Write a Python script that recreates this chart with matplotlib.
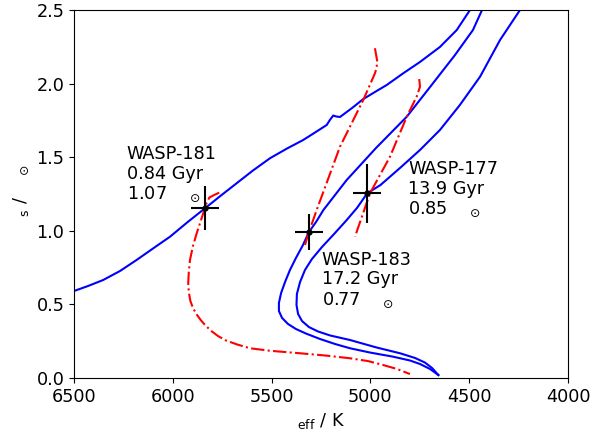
import matplotlib
matplotlib.use("Agg")
import matplotlib.pyplot as plt
import numpy as np

plt.rcParams['font.family'] = ['DejaVu Sans']
plt.rcParams['font.size'] = 12.7

# Isochrones (Teff [K], R [Rsun])
iso181_T = [6500, 6429, 6352, 6267, 6183, 6100, 6014, 5928, 5837, 5756, 5677, 5594, 5508, 5422, 5340, 5280,
            5221, 5205, 5188, 5174, 5154, 5093, 5036, 4977, 4918, 4835, 4749, 4648, 4563, 4496]
iso181_R = [0.591, 0.625, 0.666, 0.727, 0.802, 0.880, 0.960, 1.056, 1.153, 1.240, 1.323, 1.410, 1.493, 1.559, 1.617, 1.668,
            1.719, 1.753, 1.783, 1.777, 1.773, 1.834, 1.895, 1.943, 1.990, 2.069, 2.147, 2.249, 2.364, 2.5]

iso183_T = [4435, 4481, 4572, 4698, 4816, 4972, 5120, 5179, 5238, 5275, 5311, 5341, 5377, 5407, 5432, 5452,
            5463, 5463, 5447, 5417, 5377, 5326, 5255, 5179, 5103, 5002, 4886, 4800, 4749, 4698, 4656]
iso183_R = [2.5, 2.364, 2.194, 1.977, 1.775, 1.562, 1.345, 1.243, 1.141, 1.060, 0.992, 0.904, 0.815, 0.734, 0.652, 0.577,
            0.510, 0.455, 0.408, 0.367, 0.333, 0.302, 0.265, 0.231, 0.202, 0.173, 0.145, 0.119, 0.095, 0.061, 0.020]

iso177_T = [4243, 4344, 4445, 4547, 4648, 4749, 4850, 4949, 5016, 5068, 5124, 5184, 5245, 5296, 5331, 5356,
            5372, 5374, 5366, 5346, 5311, 5265, 5204, 5103, 4968, 4850, 4774, 4724, 4688, 4656]
iso177_R = [2.5, 2.296, 2.047, 1.855, 1.685, 1.549, 1.427, 1.311, 1.255, 1.155, 1.067, 0.978, 0.890, 0.808, 0.734, 0.652,
            0.571, 0.496, 0.435, 0.387, 0.346, 0.316, 0.289, 0.258, 0.207, 0.168, 0.136, 0.105, 0.068, 0.020]

# Mass tracks
trk181_T = [5765, 5791, 5815, 5829, 5846, 5862, 5879, 5898, 5913, 5919, 5922, 5919, 5911, 5898, 5879, 5857,
            5832, 5802, 5771, 5731, 5675, 5609, 5508, 5356, 5230, 5103, 5012, 4935, 4865, 4800]
trk181_R = [1.259, 1.243, 1.226, 1.189, 1.119, 1.053, 0.983, 0.897, 0.802, 0.720, 0.645, 0.584, 0.523, 0.476, 0.431, 0.391,
            0.353, 0.316, 0.285, 0.255, 0.228, 0.202, 0.185, 0.168, 0.153, 0.134, 0.115, 0.088, 0.061, 0.027]

trk183_T = [4977, 4965, 4969, 4977, 5036, 5154, 5272, 5311, 5331]
trk183_R = [2.240, 2.149, 2.106, 2.070, 1.889, 1.571, 1.141, 0.992, 0.904]

trk177_T = [4753, 4749, 4766, 4816, 4901, 5002, 5078]
trk177_R = [2.031, 1.979, 1.911, 1.775, 1.503, 1.255, 0.960]

# Stars
star_names = ['WASP-181', 'WASP-183', 'WASP-177']
star_T = [5837, 5311, 5016]
star_Terr = [70, 72, 70]
star_R = [1.155, 0.992, 1.255]
star_Rerr = [0.15, 0.12, 0.20]
star_age = ['0.84 Gyr', '17.2 Gyr', '13.9 Gyr']
star_mass = ['1.07', '0.77', '0.85']
label_T = [6233, 5246, 4808]
label_R = [1.213, 0.499, 1.111]

fig = plt.figure(figsize=(6.04, 4.36), dpi=100)
ax = fig.add_axes([74/604, (436-378)/436, 494/604, 368/436])

for T, R in [(iso181_T, iso181_R), (iso183_T, iso183_R), (iso177_T, iso177_R)]:
    ax.plot(T, R, color='b', lw=1.5)
for T, R in [(trk181_T, trk181_R), (trk183_T, trk183_R), (trk177_T, trk177_R)]:
    ax.plot(T, R, color='r', lw=1.5, ls='-.')

ax.errorbar(star_T, star_R, xerr=star_Terr, yerr=star_Rerr, fmt='o', color='k',
            ms=3.5, elinewidth=1.5, capsize=0)

for i in range(3):
    ax.text(label_T[i], label_R[i],
            f"{star_names[i]}\n{star_age[i]}\n{star_mass[i]} " + r"$\quad{}_{\odot}$",
            ha='left', va='baseline', linespacing=1.13)

ax.set_xlim(6500, 4000)
ax.set_ylim(0, 2.5)
ax.set_xticks([6500, 6000, 5500, 5000, 4500, 4000])
ax.set_yticks([0.0, 0.5, 1.0, 1.5, 2.0, 2.5])
ax.set_xlabel(r"$_{\rm eff}$ / K")
ax.set_ylabel(r"$\;\,{}_{\rm s}$ / $\enspace\;\,{}_{\odot}$")

fig.savefig("out.png", dpi=100)
